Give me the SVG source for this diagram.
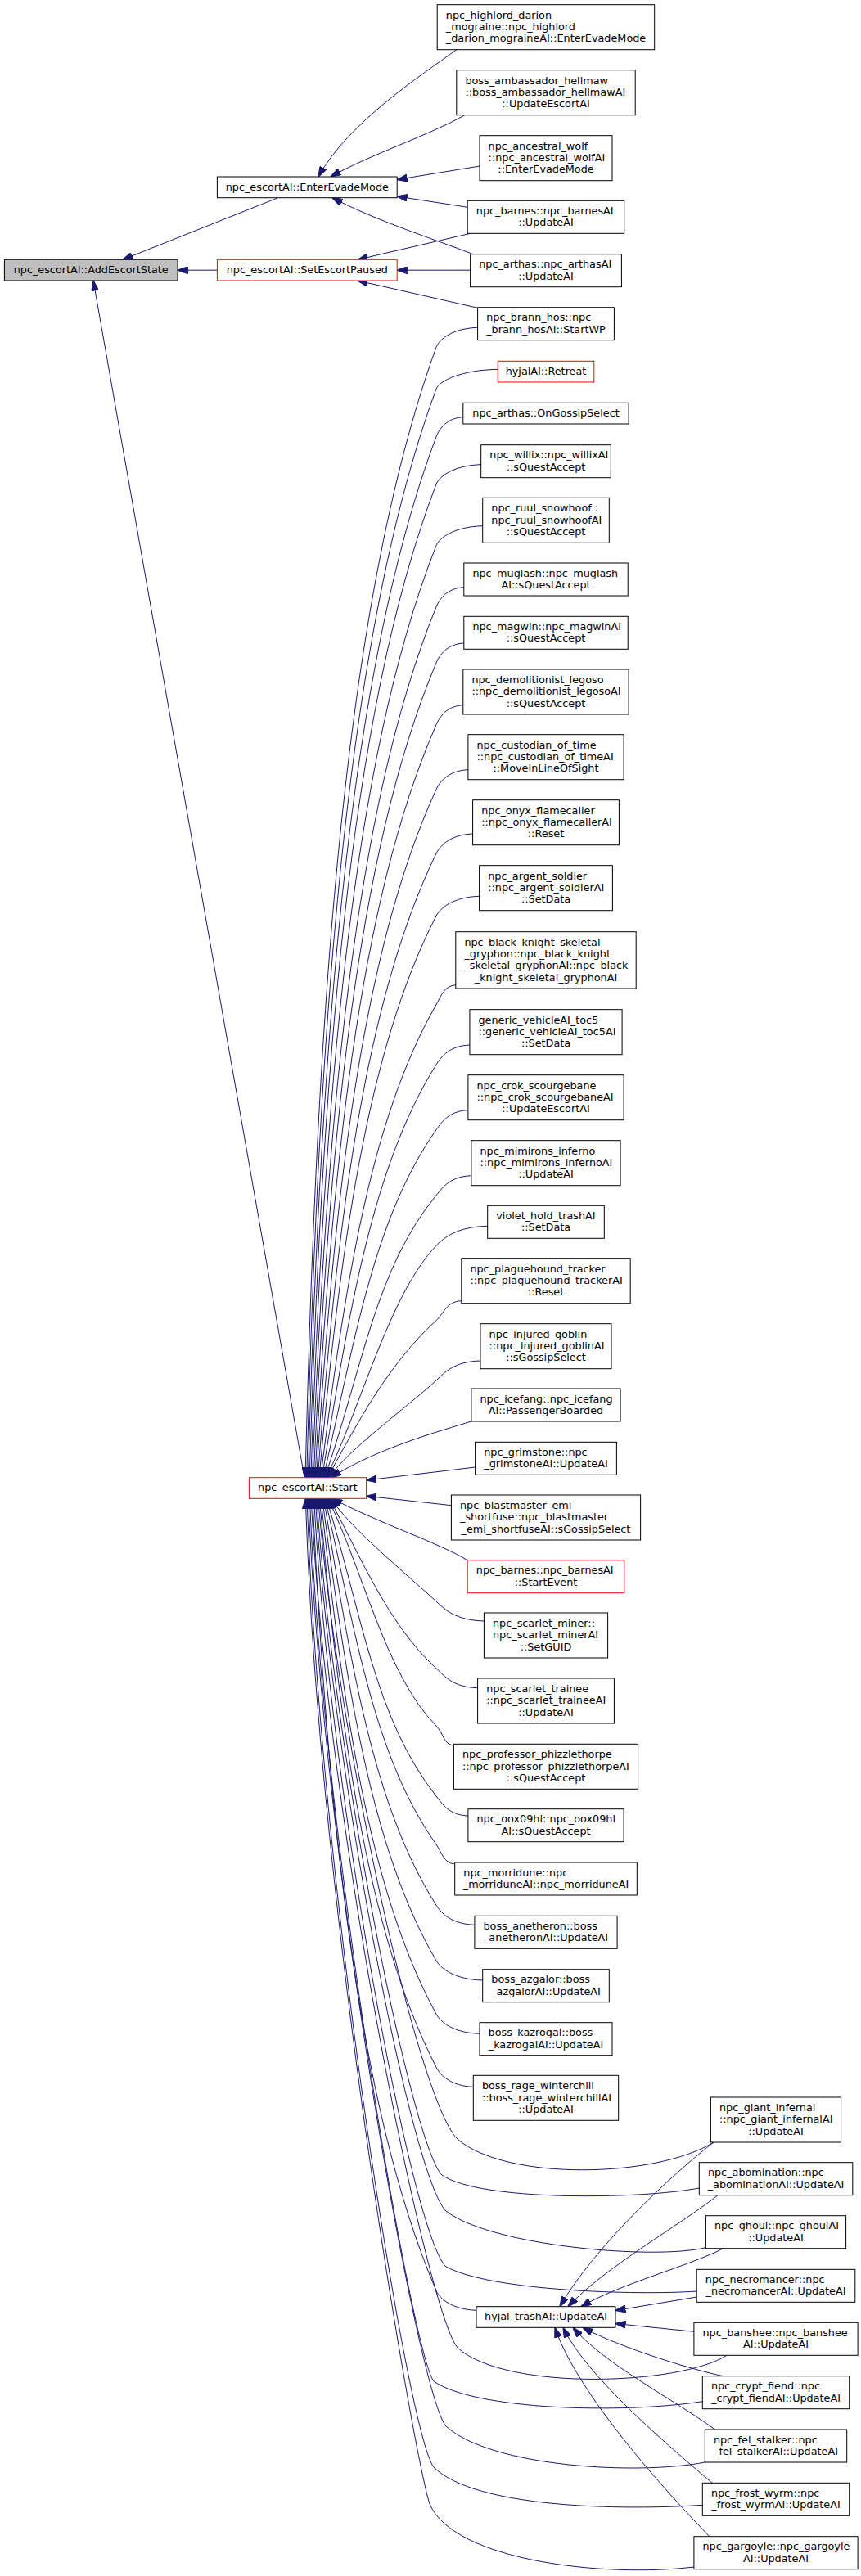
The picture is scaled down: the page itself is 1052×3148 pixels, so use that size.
<svg xmlns="http://www.w3.org/2000/svg" width="1052" height="3148" viewBox="0 0 1052 3148">
<style>
.node rect{fill:#fff;stroke:#000;stroke-width:1}
.node.red rect{stroke:#ff0000}
.node.root rect{fill:#bfbfbf}
.node text{font-family:"DejaVu Sans","Liberation Sans",sans-serif;font-size:12.8px;fill:#000}
.node text.c{text-anchor:middle}
.edges path{fill:none;stroke:#191970;stroke-width:1;marker-end:url(#ah)}
</style>
<defs>
<marker id="ah" viewBox="0 0 13 9" refX="12.5" refY="4.5" markerWidth="13" markerHeight="9" markerUnits="userSpaceOnUse" orient="auto">
<path d="M0,0 L13,4.5 L0,9 Z" fill="#191970" stroke="#191970" stroke-width="1"/>
</marker>
</defs>
<rect x="0" y="0" width="1052" height="3148" fill="#fff"/>
<g class="edges">
<path d="M339,242 L150,317.3"/>
<path d="M265.4,330.2 L217,330.2"/>
<path d="M372,1805.7 L114,343"/>
<path d="M557.8,60.7 C515,92 425,150 389,216"/>
<path d="M567.8,140.7 C525,165 450,190 404,216"/>
<path d="M586,203 L485.2,219.5"/>
<path d="M571.2,253.3 L485.2,240"/>
<path d="M578,310.7 C530,292 460,270 406,241.7"/>
<path d="M574.6,285.3 L437,317.3"/>
<path d="M574.6,330.2 L485.2,330.2"/>
<path d="M583.6,376.3 L437,343"/>
<path d="M583.6,400.3 C553.2,401.3 536.6,414.3 533,424.3 C417.6,743.2 386.9,1253.1 373,1805.7"/>
<path d="M608.2,451.3 C563.1,452.3 536.7,465.3 533,475.3 C419.8,783 389,1273.5 374.7,1805.7"/>
<path d="M565.8,509.7 C546.1,510.7 536.8,523.7 533,533.7 C422.4,828.5 391.2,1296.9 376.4,1805.7"/>
<path d="M587.7,567.7 C554.9,568.7 536.8,581.7 533,591.7 C425,873.8 393.4,1320.1 378.1,1805.7"/>
<path d="M589.7,642.7 C555.7,643.7 536.9,656.7 533,666.7 C428.2,932.3 395.9,1350.1 379.8,1805.7"/>
<path d="M566.8,717.7 C546.5,718.7 537.1,731.7 533,741.7 C431.5,990.8 398.6,1380.1 381.5,1805.7"/>
<path d="M566.8,786 C546.5,787 537.2,800 533,810 C434.5,1044.1 401.3,1407.4 383.2,1805.7"/>
<path d="M565.8,861.7 C546.1,862.7 537.4,875.7 533,885.7 C437.7,1103.1 404.2,1437.7 384.9,1805.7"/>
<path d="M571.9,940.7 C548.6,941.7 537.6,954.7 533,964.7 C441.1,1164.7 407.5,1469.3 386.6,1805.7"/>
<path d="M577.6,1019 C550.8,1020 537.9,1033 533,1043 C444.3,1225.8 411.1,1500.6 388.3,1805.7"/>
<path d="M585.6,1095.3 C554,1096.3 538.2,1109.3 533,1119.3 C447.3,1285.3 415,1531.1 390,1805.7"/>
<path d="M556.8,1203.7 C542.5,1204.7 538.7,1217.7 533,1227.7 C451.5,1369.9 421,1574.5 391.7,1805.7"/>
<path d="M573.9,1277 C549.4,1278 539.3,1291 533,1301 C454.1,1427 426.6,1603.8 393.4,1805.7"/>
<path d="M571.9,1356.7 C548.6,1357.7 540,1370.7 533,1380.7 C456.6,1489.2 434,1635.7 395.1,1805.7"/>
<path d="M575.9,1436.7 C550.2,1437.7 541.2,1450.7 533,1460.7 C458.6,1551.6 444.2,1667.7 396.8,1805.7"/>
<path d="M595.7,1498.3 C558.1,1499.3 542.5,1512.3 533,1522.3 C475,1583 441,1720.7 398.5,1805.7"/>
<path d="M563.8,1589.7 C545.3,1590.7 543.5,1603.7 533,1613.7 C472.5,1668.7 433.2,1745.7 400.2,1805.7"/>
<path d="M587,1663 C554.6,1664 543.5,1677 533,1687 C494.5,1722 426.4,1770.7 401.9,1805.7"/>
<path d="M576,1737 C540,1748 460,1770 404.5,1805.7"/>
<path d="M580.6,1793 L447.6,1809"/>
<path d="M551.4,1839.7 L447.6,1828.3"/>
<path d="M571.2,1906.7 C535,1885 460,1860 406,1831.3"/>
<path d="M591.4,1981 C556.4,1980 543.5,1967 533,1957 C491.2,1919 430.6,1869.3 404,1831.3"/>
<path d="M583.6,2062.7 C553.2,2061.7 543.5,2048.7 533,2038.7 C472.5,1983.7 436.4,1893.3 402.3,1831.3"/>
<path d="M554.4,2133 C541.6,2132 542.7,2119 533,2109 C471,2047 442.1,1914.3 400.6,1831.3"/>
<path d="M571.9,2219 C548.6,2218 540.9,2205 533,2195 C458.2,2100 443.2,1976.8 398.9,1831.3"/>
<path d="M555.7,2278 C542.1,2277 540.1,2264 533,2254 C456.7,2146 435.8,2000.4 397.2,1831.3"/>
<path d="M579.9,2352.3 C551.8,2351.3 539.3,2338.3 533,2328.3 C454.4,2204 428.7,2030.1 395.5,1831.3"/>
<path d="M589.7,2420 C555.7,2419 538.8,2406 533,2396 C452,2256.8 423.4,2057.2 393.8,1831.3"/>
<path d="M586,2485.3 C554.2,2484.3 538.4,2471.3 533,2461.3 C449.5,2307.7 418.9,2083.3 392.1,1831.3"/>
<path d="M578.3,2550.3 C551.1,2549.3 538.1,2536.3 533,2526.3 C447,2358.4 415,2109.3 390.4,1831.3"/>
<path d="M582,2823.3 C552.6,2822.3 537.3,2809.3 533,2799.3 C435.7,2571.3 400.6,2218.5 381.9,1831.3"/>
<path d="M872,2618 C800,2662 620,2665 560,2615 C515,2578 414.8,2146 388.7,1831.3"/>
<path d="M854.3,2674 C780,2688 585,2690 540,2658 C505,2625 409.2,2162 387,1831.3"/>
<path d="M862.4,2746.7 C800,2762 600,2745 545,2702 C505,2665 407.3,2179.6 385.3,1831.3"/>
<path d="M851.2,2800 C780,2805 600,2800 545,2770 C505,2735 404.2,2206.8 383.6,1831.3"/>
<path d="M888,2878.3 C830,2915 620,2922 560,2870 C525,2838 401,2246.8 380.2,1831.3"/>
<path d="M858.3,2934.7 C760,2950 580,2945 530,2910 C505,2880 395.3,2262.8 378.5,1831.3"/>
<path d="M861.3,3009 C780,3025 600,3015 545,2965 C512,2930 394.6,2284.8 376.8,1831.3"/>
<path d="M858.3,3061.3 C760,3068 580,3065 530,3015 C498,2975 390.8,2304.8 375.1,1831.3"/>
<path d="M847.9,3137 C740,3150 555,3130 525,3060 C505,3000 388.2,2322.8 373.4,1831.3"/>
<path d="M872,2618 C830,2650 730,2740 684,2818.7"/>
<path d="M877,2682.7 C830,2720 740,2770 694,2818.7"/>
<path d="M883.7,2747.7 C840,2770 760,2790 710,2818.7"/>
<path d="M851.2,2807 L752,2823.5"/>
<path d="M847.9,2849.3 L752,2839.5"/>
<path d="M883.7,2903.7 C850,2897 760,2870 712,2844.3"/>
<path d="M873.6,2969 C820,2930 740,2890 700,2844.3"/>
<path d="M870.2,3034.3 C800,2975 715,2900 688,2844.3"/>
<path d="M866.9,3099.7 C780,3010 700,2910 678,2844.3"/>
</g>
<g id="n_highlord" class="node"><rect x="534.2" y="5.7" width="265.5" height="55"/><text x="544.8" y="22.7">npc_highlord_darion</text><text x="544.8" y="37">_mograine::npc_highlord</text><text class="c" x="667" y="51.3">_darion_mograineAI::EnterEvadeMode</text></g>
<g id="n_hellmaw" class="node"><rect x="557.8" y="85.7" width="218.4" height="55"/><text x="568.4" y="102.7">boss_ambassador_hellmaw</text><text x="568.4" y="117">::boss_ambassador_hellmawAI</text><text class="c" x="667" y="131.3">::UpdateEscortAI</text></g>
<g id="n_wolf" class="node"><rect x="586" y="165.7" width="162" height="55"/><text x="596.6" y="182.7">npc_ancestral_wolf</text><text x="596.6" y="197">::npc_ancestral_wolfAI</text><text class="c" x="667" y="211.3">::EnterEvadeMode</text></g>
<g id="n_entervade" class="node"><rect x="265.4" y="216" width="219.8" height="25.7"/><text class="c" x="375.3" y="232.6">npc_escortAI::EnterEvadeMode</text></g>
<g id="n_barnes_update" class="node"><rect x="571.2" y="245.3" width="191.5" height="40"/><text x="581.8" y="261.95">npc_barnes::npc_barnesAI</text><text class="c" x="667" y="276.25">::UpdateAI</text></g>
<g id="n_root" class="node root"><rect x="5.4" y="317.3" width="211.6" height="25.7"/><text class="c" x="111.2" y="334">npc_escortAI::AddEscortState</text></g>
<g id="n_setpaused" class="node red"><rect x="265.4" y="317.3" width="219.8" height="25.7"/><text class="c" x="375.3" y="334">npc_escortAI::SetEscortPaused</text></g>
<g id="n_arthas_update" class="node"><rect x="574.6" y="310.7" width="184.8" height="40"/><text x="585.2" y="327.35">npc_arthas::npc_arthasAI</text><text class="c" x="667" y="341.65">::UpdateAI</text></g>
<g id="n_brann" class="node"><rect x="583.6" y="375.7" width="166.8" height="40"/><text x="594.2" y="392.35">npc_brann_hos::npc</text><text class="c" x="667" y="406.65">_brann_hosAI::StartWP</text></g>
<g id="n_retreat" class="node red"><rect x="608.2" y="441.3" width="117.6" height="25.7"/><text class="c" x="667" y="458">hyjalAI::Retreat</text></g>
<g id="n_ongossip" class="node"><rect x="565.8" y="492.3" width="202.3" height="25.7"/><text class="c" x="667" y="509">npc_arthas::OnGossipSelect</text></g>
<g id="n_willix" class="node"><rect x="587.7" y="543.7" width="158.6" height="40"/><text x="598.3" y="560.35">npc_willix::npc_willixAI</text><text class="c" x="667" y="574.65">::sQuestAccept</text></g>
<g id="n_ruul" class="node"><rect x="589.7" y="608.3" width="154.6" height="55"/><text x="600.3" y="625.3">npc_ruul_snowhoof::</text><text x="600.3" y="639.6">npc_ruul_snowhoofAI</text><text class="c" x="667" y="653.9">::sQuestAccept</text></g>
<g id="n_muglash" class="node"><rect x="566.8" y="688" width="200.4" height="40"/><text x="577.4" y="704.65">npc_muglash::npc_muglash</text><text class="c" x="667" y="718.95">AI::sQuestAccept</text></g>
<g id="n_magwin" class="node"><rect x="566.8" y="753.3" width="200.4" height="40"/><text x="577.4" y="769.95">npc_magwin::npc_magwinAI</text><text class="c" x="667" y="784.25">::sQuestAccept</text></g>
<g id="n_legoso" class="node"><rect x="565.8" y="818" width="202.3" height="55"/><text x="576.4" y="835">npc_demolitionist_legoso</text><text x="576.4" y="849.3">::npc_demolitionist_legosoAI</text><text class="c" x="667" y="863.6">::sQuestAccept</text></g>
<g id="n_custodian" class="node"><rect x="571.9" y="897.7" width="190.2" height="55"/><text x="582.5" y="914.7">npc_custodian_of_time</text><text x="582.5" y="929">::npc_custodian_of_timeAI</text><text class="c" x="667" y="943.3">::MoveInLineOfSight</text></g>
<g id="n_onyx" class="node"><rect x="577.6" y="977.7" width="178.8" height="55"/><text x="588.2" y="994.7">npc_onyx_flamecaller</text><text x="588.2" y="1009">::npc_onyx_flamecallerAI</text><text class="c" x="667" y="1023.3">::Reset</text></g>
<g id="n_argent" class="node"><rect x="585.6" y="1057.7" width="162.8" height="55"/><text x="596.2" y="1074.7">npc_argent_soldier</text><text x="596.2" y="1089">::npc_argent_soldierAI</text><text class="c" x="667" y="1103.3">::SetData</text></g>
<g id="n_blackknight" class="node"><rect x="556.8" y="1138.7" width="220.4" height="69.3"/><text x="567.4" y="1155.7">npc_black_knight_skeletal</text><text x="567.4" y="1170">_gryphon::npc_black_knight</text><text x="567.4" y="1184.3">_skeletal_gryphonAI::npc_black</text><text class="c" x="667" y="1198.6">_knight_skeletal_gryphonAI</text></g>
<g id="n_toc5" class="node"><rect x="573.9" y="1233.7" width="186.2" height="55"/><text x="584.5" y="1250.7">generic_vehicleAI_toc5</text><text x="584.5" y="1265">::generic_vehicleAI_toc5AI</text><text class="c" x="667" y="1279.3">::SetData</text></g>
<g id="n_crok" class="node"><rect x="571.9" y="1313.7" width="190.2" height="55"/><text x="582.5" y="1330.7">npc_crok_scourgebane</text><text x="582.5" y="1345">::npc_crok_scourgebaneAI</text><text class="c" x="667" y="1359.3">::UpdateEscortAI</text></g>
<g id="n_mimiron" class="node"><rect x="575.9" y="1393.7" width="182.2" height="55"/><text x="586.5" y="1410.7">npc_mimirons_inferno</text><text x="586.5" y="1425">::npc_mimirons_infernoAI</text><text class="c" x="667" y="1439.3">::UpdateAI</text></g>
<g id="n_violet" class="node"><rect x="595.7" y="1473.3" width="142.6" height="40"/><text x="606.3" y="1489.95">violet_hold_trashAI</text><text class="c" x="667" y="1504.25">::SetData</text></g>
<g id="n_plaguehound" class="node"><rect x="563.8" y="1537.7" width="206.4" height="55"/><text x="574.4" y="1554.7">npc_plaguehound_tracker</text><text x="574.4" y="1569">::npc_plaguehound_trackerAI</text><text class="c" x="667" y="1583.3">::Reset</text></g>
<g id="n_injured" class="node"><rect x="587" y="1617.7" width="160" height="55"/><text x="597.6" y="1634.7">npc_injured_goblin</text><text x="597.6" y="1649">::npc_injured_goblinAI</text><text class="c" x="667" y="1663.3">::sGossipSelect</text></g>
<g id="n_icefang" class="node"><rect x="575.9" y="1697" width="182.2" height="40"/><text x="586.5" y="1713.65">npc_icefang::npc_icefang</text><text class="c" x="667" y="1727.95">AI::PassengerBoarded</text></g>
<g id="n_grimstone" class="node"><rect x="580.6" y="1762.3" width="172.8" height="40"/><text x="591.2" y="1778.95">npc_grimstone::npc</text><text class="c" x="667" y="1793.25">_grimstoneAI::UpdateAI</text></g>
<g id="n_start" class="node red"><rect x="304.4" y="1805.7" width="143.2" height="25.6"/><text class="c" x="376" y="1822.3">npc_escortAI::Start</text></g>
<g id="n_blastmaster" class="node"><rect x="551.4" y="1827" width="231.2" height="55"/><text x="562" y="1844">npc_blastmaster_emi</text><text x="562" y="1858.3">_shortfuse::npc_blastmaster</text><text class="c" x="667" y="1872.6">_emi_shortfuseAI::sGossipSelect</text></g>
<g id="n_barnes_start" class="node red"><rect x="571.2" y="1906.7" width="191.5" height="40"/><text x="581.8" y="1923.35">npc_barnes::npc_barnesAI</text><text class="c" x="667" y="1937.65">::StartEvent</text></g>
<g id="n_miner" class="node"><rect x="591.4" y="1971" width="151.2" height="55"/><text x="602" y="1988">npc_scarlet_miner::</text><text x="602" y="2002.3">npc_scarlet_minerAI</text><text class="c" x="667" y="2016.6">::SetGUID</text></g>
<g id="n_trainee" class="node"><rect x="583.6" y="2051" width="166.8" height="55"/><text x="594.2" y="2068">npc_scarlet_trainee</text><text x="594.2" y="2082.3">::npc_scarlet_traineeAI</text><text class="c" x="667" y="2096.6">::UpdateAI</text></g>
<g id="n_phizzle" class="node"><rect x="554.4" y="2131.3" width="225.2" height="55"/><text x="565" y="2148.3">npc_professor_phizzlethorpe</text><text x="565" y="2162.6">::npc_professor_phizzlethorpeAI</text><text class="c" x="667" y="2176.9">::sQuestAccept</text></g>
<g id="n_oox" class="node"><rect x="571.9" y="2210.7" width="190.2" height="40"/><text x="582.5" y="2227.35">npc_oox09hl::npc_oox09hl</text><text class="c" x="667" y="2241.65">AI::sQuestAccept</text></g>
<g id="n_morridune" class="node"><rect x="555.7" y="2276" width="222.6" height="40"/><text x="566.3" y="2292.65">npc_morridune::npc</text><text class="c" x="667" y="2306.95">_morriduneAI::npc_morriduneAI</text></g>
<g id="n_anetheron" class="node"><rect x="579.9" y="2341.3" width="174.2" height="40"/><text x="590.5" y="2357.95">boss_anetheron::boss</text><text class="c" x="667" y="2372.25">_anetheronAI::UpdateAI</text></g>
<g id="n_azgalor" class="node"><rect x="589.7" y="2406.7" width="154.6" height="40"/><text x="600.3" y="2423.35">boss_azgalor::boss</text><text class="c" x="667" y="2437.65">_azgalorAI::UpdateAI</text></g>
<g id="n_kazrogal" class="node"><rect x="586" y="2471.7" width="162" height="40"/><text x="596.6" y="2488.35">boss_kazrogal::boss</text><text class="c" x="667" y="2502.65">_kazrogalAI::UpdateAI</text></g>
<g id="n_winterchill" class="node"><rect x="578.3" y="2536.3" width="177.4" height="55"/><text x="588.9" y="2553.3">boss_rage_winterchill</text><text x="588.9" y="2567.6">::boss_rage_winterchillAI</text><text class="c" x="667" y="2581.9">::UpdateAI</text></g>
<g id="n_giant" class="node"><rect x="868.4" y="2563" width="159.2" height="55"/><text x="879" y="2580">npc_giant_infernal</text><text x="879" y="2594.3">::npc_giant_infernalAI</text><text class="c" x="948" y="2608.6">::UpdateAI</text></g>
<g id="n_abomination" class="node"><rect x="854.3" y="2642.7" width="187.5" height="40"/><text x="864.9" y="2659.35">npc_abomination::npc</text><text class="c" x="948" y="2673.65">_abominationAI::UpdateAI</text></g>
<g id="n_ghoul" class="node"><rect x="862.4" y="2707.7" width="171.2" height="40"/><text x="873" y="2724.35">npc_ghoul::npc_ghoulAI</text><text class="c" x="948" y="2738.65">::UpdateAI</text></g>
<g id="n_necromancer" class="node"><rect x="851.2" y="2773.3" width="193.6" height="40"/><text x="861.8" y="2789.95">npc_necromancer::npc</text><text class="c" x="948" y="2804.25">_necromancerAI::UpdateAI</text></g>
<g id="n_hyjal_trash" class="node"><rect x="582" y="2818.7" width="170" height="25.6"/><text class="c" x="667" y="2835.3">hyjal_trashAI::UpdateAI</text></g>
<g id="n_banshee" class="node"><rect x="847.9" y="2838.3" width="200.2" height="40"/><text x="858.5" y="2854.95">npc_banshee::npc_banshee</text><text class="c" x="948" y="2869.25">AI::UpdateAI</text></g>
<g id="n_crypt" class="node"><rect x="858.3" y="2903.7" width="179.4" height="40"/><text x="868.9" y="2920.35">npc_crypt_fiend::npc</text><text class="c" x="948" y="2934.65">_crypt_fiendAI::UpdateAI</text></g>
<g id="n_fel" class="node"><rect x="861.3" y="2969" width="173.4" height="40"/><text x="871.9" y="2985.65">npc_fel_stalker::npc</text><text class="c" x="948" y="2999.95">_fel_stalkerAI::UpdateAI</text></g>
<g id="n_frost" class="node"><rect x="858.3" y="3034.3" width="179.4" height="40"/><text x="868.9" y="3050.95">npc_frost_wyrm::npc</text><text class="c" x="948" y="3065.25">_frost_wyrmAI::UpdateAI</text></g>
<g id="n_gargoyle" class="node"><rect x="847.9" y="3099.7" width="200.2" height="40"/><text x="858.5" y="3116.35">npc_gargoyle::npc_gargoyle</text><text class="c" x="948" y="3130.65">AI::UpdateAI</text></g>
</svg>
